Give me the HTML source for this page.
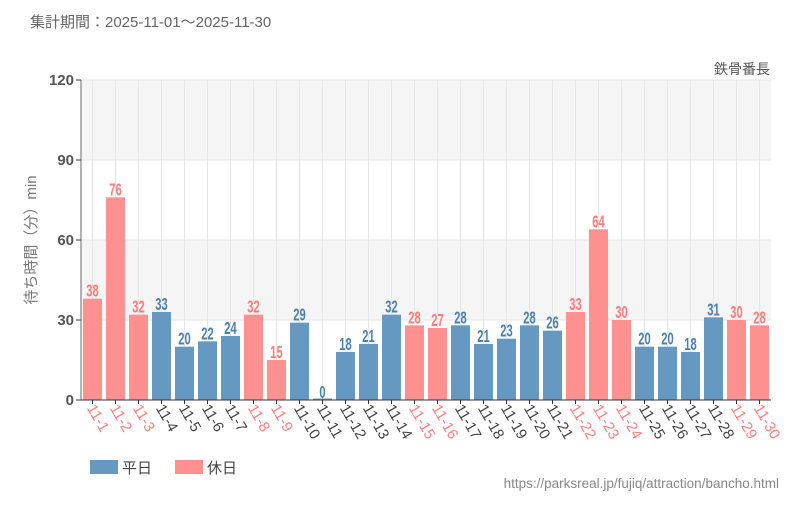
<!DOCTYPE html>
<html><head><meta charset="utf-8"><style>
body{margin:0;background:#fff;font-family:"Liberation Sans","Noto Sans CJK JP",sans-serif}
svg text{font-family:"Liberation Sans","Noto Sans CJK JP",sans-serif}
</style></head><body>
<svg id="c" width="800" height="500">
<text x="30" y="27" font-size="15" fill="#666">集計期間：2025-11-01～2025-11-30</text>
<text x="770" y="74" font-size="14" fill="#555" text-anchor="end">鉄骨番長</text>
<text transform="translate(36,240) rotate(-90)" font-size="15" fill="#777" text-anchor="middle">待ち時間（分）min</text>
<g id="grid"></g><g id="bars"></g><g id="axes"></g>
<rect x="90" y="460" width="28" height="14" fill="#6699c2"/>
<text x="122" y="473" font-size="15" fill="#444">平日</text>
<rect x="175" y="460" width="28" height="14" fill="#ff9090"/>
<text x="207" y="473" font-size="15" fill="#444">休日</text>
<text x="779" y="488" font-size="13.5" fill="#888" text-anchor="end">https://parksreal.jp/fujiq/attraction/bancho.html</text>
</svg>
<script>
const categories=["11-1","11-2","11-3","11-4","11-5","11-6","11-7","11-8","11-9","11-10","11-11","11-12","11-13","11-14","11-15","11-16","11-17","11-18","11-19","11-20","11-21","11-22","11-23","11-24","11-25","11-26","11-27","11-28","11-29","11-30"];
const values=[38,76,32,33,20,22,24,32,15,29,0,18,21,32,28,27,28,21,23,28,26,33,64,30,20,20,18,31,30,28];
const holidays=[1,1,1,0,0,0,0,1,1,0,0,0,0,0,1,1,0,0,0,0,0,1,1,1,0,0,0,0,1,1];
const yTicks=[0,30,60,90,120];
const NS="http://www.w3.org/2000/svg";
const L=81,R=771,T=80,B=400,yMax=120;
const slot=(R-L)/categories.length;
const y=v=>B-(v/yMax)*(B-T);
const xc=i=>L+slot*(i+0.5);
function mk(t,a,p){const e=document.createElementNS(NS,t);for(const k in a)e.setAttribute(k,a[k]);p.appendChild(e);return e;}
const grid=document.getElementById('grid'),bars=document.getElementById('bars'),axes=document.getElementById('axes');
for(let k=0;k<yTicks.length-1;k++){
 if(k%2===1){const r=mk('rect',{x:L,y:y(yTicks[k+1]),width:R-L,height:y(yTicks[k])-y(yTicks[k+1]),fill:'#f5f5f5'},grid);
 
 }
}
categories.forEach((c,i)=>{const l=mk('line',{x1:xc(i),x2:xc(i),y1:T,y2:B,stroke:'#e6e6e6'},grid);
 
 });
yTicks.forEach(t=>{
 const l=mk('line',{x1:L,x2:R,y1:y(t),y2:y(t),stroke:'#e6e6e6'},grid);
 
 
 mk('line',{x1:L-5,x2:L,y1:y(t),y2:y(t),stroke:'#333'},axes);
 const tx=mk('text',{x:L-7,y:y(t)+5,'font-size':15,'font-weight':'bold',fill:'#555','text-anchor':'end'},axes);tx.textContent=t;
 
 
});
mk('line',{x1:L,x2:L,y1:T,y2:B,stroke:'#666'},axes);
mk('line',{x1:L,x2:R,y1:B,y2:B,stroke:'#333'},axes);
categories.forEach((c,i)=>{
 const col=holidays[i]?'#ff9090':'#6699c2', tcol=holidays[i]?'#ff7b7b':'#4a80b0';
 const bw=19,h=Math.max(B-y(values[i]),values[i]===0?1.5:0);
 const r=mk('rect',{x:xc(i)-bw/2,y:B-h,width:bw,height:h,fill:col},bars);
 
 
 const v=mk('text',{'font-size':18,'font-weight':'bold',fill:tcol,'text-anchor':'middle',transform:`translate(${xc(i)},${y(values[i])-2}) scale(0.62,1)`},bars);
 v.textContent=values[i];
 
 
 mk('line',{x1:xc(i),x2:xc(i),y1:B,y2:B+4,stroke:'#333'},axes);
 const lt=mk('text',{'font-size':15,fill:holidays[i]?'#ff8080':'#444',transform:`translate(${xc(i)-6},${B+8}) rotate(60)`},axes);
 lt.textContent=c;
 
 
});
</script>
</body></html>
